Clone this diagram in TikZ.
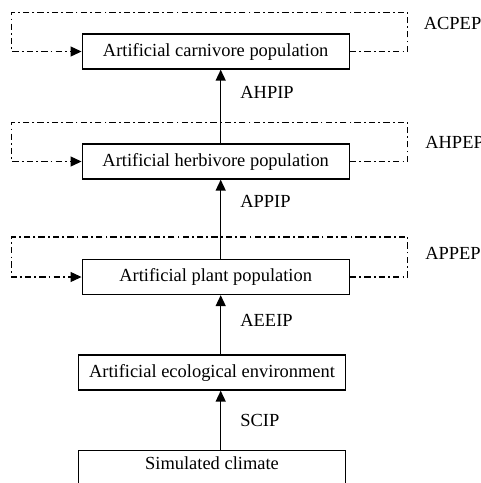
\documentclass[tikz,border=0pt]{standalone}
\usepackage{fontspec}
\setmainfont{Liberation Serif}
\usetikzlibrary{arrows.meta}

\tikzset{
  box/.style={draw, line width=0.75pt, minimum width=5.34cm, minimum height=0.7cm, inner sep=0pt},
  fb/.style={line width=0.65pt, dash pattern=on 3.6pt off 1.8pt on 1pt off 1.8pt,
    -{Triangle[length=0.22cm,width=0.2cm]}},
  up/.style={line width=0.8pt, -{Triangle[length=0.22cm,width=0.2cm]}},
  lab/.style={inner sep=0pt}
}

\begin{document}
\begin{tikzpicture}[font=\fontsize{10.5}{12.6}\selectfont]
      \useasboundingbox (0,0) rectangle (9.62,-9.66);

      \node[box] (carn) at (4.314,-1.03) {Artificial carnivore population};
      \node[box] (herb) at (4.314,-3.23) {Artificial herbivore population};
      \node[box] (plant) at (4.314,-5.54) {Artificial plant population};
      \node[box] (env) at (4.24,-7.45) {Artificial ecological environment};
      \node[box, anchor=north, minimum height=0pt, inner ysep=3.6pt, text depth=0.7cm] (climate) at (4.24,-9.0) {Simulated climate};
      \coordinate (ax) at (4.414,0);

      \draw[up] (climate.north -| ax) -- node[lab, right=0.38cm, pos=0.5] {SCIP} (env.south -| ax);
      \draw[up] (env.north -| ax) -- node[lab, right=0.38cm, pos=0.57] {AEEIP} (plant.south -| ax);
      \draw[up] (plant.north -| ax) -- node[lab, right=0.38cm, pos=0.72] {APPIP} (herb.south -| ax);
      \draw[up] (herb.north -| ax) -- node[lab, right=0.38cm, pos=0.69] {AHPIP} (carn.south -| ax);

      \draw[fb] (carn.east) -- ++(1.16,0) -- ++(0,0.78) -| ([xshift=-1.4cm]carn.west) -- (carn.west);
      \draw[fb] (herb.east) -- ++(1.16,0) -- ++(0,0.78) -| ([xshift=-1.4cm]herb.west) -- (herb.west);
      \draw[fb] (plant.east) -- ++(1.16,0) -- ++(0,0.8) -| ([xshift=-1.4cm]plant.west) -- (plant.west);

      \node[lab, anchor=west] (acpep) at (8.47,-0.466) {ACPEP};
      \node[lab, anchor=west] (ahpep) at (8.5,-2.84) {AHPEP};
      \node[lab, anchor=west] (appep) at (8.5,-5.06) {APPEP};
    \end{tikzpicture}
\end{document}
